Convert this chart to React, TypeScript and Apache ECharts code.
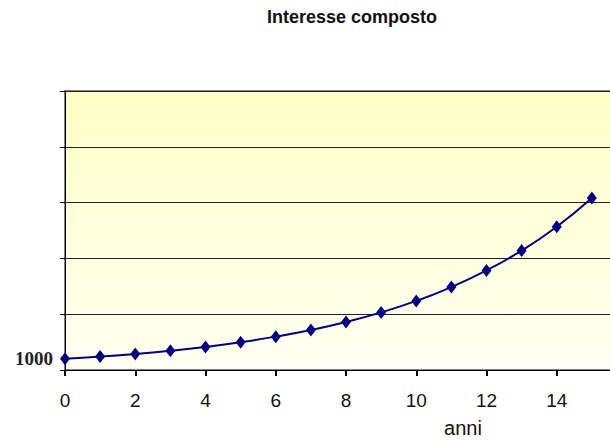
import React, { useEffect, useRef } from "react";
import * as echarts from "echarts";

const years = [0, 1, 2, 3, 4, 5, 6, 7, 8, 9, 10, 11, 12, 13, 14, 15];
const capital = [1000, 1200, 1440, 1730, 2070, 2490, 2990, 3580, 4300, 5160, 6190, 7430, 8920, 10700, 12840, 15410];
const titleText = "Interesse composto";
const xAxisTitle = "anni";
const startLabel = "1000";

export default function App() {
  const ref = useRef<HTMLDivElement>(null);
  useEffect(() => {
    if (!ref.current) return;
    const chart = echarts.init(ref.current, undefined, { renderer: "svg" });
    const data = years.map((y, i) => {
      if (i === 0) {
        return {
          value: [y, capital[i]],
          label: {
            show: true,
            position: "left",
            distance: 7,
            formatter: startLabel,
            fontFamily: "Liberation Serif, serif",
            fontWeight: "bold",
            fontSize: 19,
            color: "#222",
          },
        };
      }
      return [y, capital[i]];
    });
    chart.setOption({
      animation: false,
      backgroundColor: "#ffffff",
      grid: {
        left: 65,
        top: 91,
        width: 562,
        height: 279,
        outerBoundsMode: "none",
        containLabel: false,
        show: true,
        borderWidth: 2,
        borderColor: "#808080",
        backgroundColor: new echarts.graphic.LinearGradient(0, 0, 0, 1, [
          { offset: 0, color: "#ffffc6" },
          { offset: 1, color: "#fffff2" },
        ]),
      },
      graphic: [
        {
          type: "text",
          x: 352,
          y: 17,
          style: {
            text: titleText,
            align: "center",
            verticalAlign: "middle",
            fontFamily: "Liberation Sans Narrow, Arial Narrow, sans-serif",
            fontWeight: "bold",
            fontSize: 18,
            fill: "#111",
          },
        },
        {
          type: "text",
          x: 463,
          y: 428,
          style: {
            text: xAxisTitle,
            align: "center",
            verticalAlign: "middle",
            fontFamily: "Liberation Sans Narrow, Arial Narrow, sans-serif",
            fontSize: 20,
            fill: "#111",
          },
        },
      ],
      xAxis: {
        type: "value",
        min: 0,
        max: 16,
        interval: 2,
        axisLine: { show: true, lineStyle: { color: "#000", width: 1 } },
        axisTick: { show: true, length: 6, lineStyle: { color: "#000", width: 2 } },
        axisLabel: {
          margin: 21,
          showMaxLabel: false,
          fontFamily: "Liberation Sans Narrow, Arial Narrow, sans-serif",
          fontSize: 19,
          color: "#111",
        },
        splitLine: { show: false },
      },
      yAxis: {
        type: "value",
        min: 0,
        max: 25000,
        interval: 5000,
        axisLine: { show: true, lineStyle: { color: "#000", width: 1 } },
        axisTick: { show: true, length: 5, lineStyle: { color: "#000", width: 1 } },
        axisLabel: { show: false },
        splitLine: { show: true, lineStyle: { color: "#222", width: 1 } },
      },
      series: [
        {
          type: "line",
          data,
          smooth: true,
          symbol: "diamond",
          symbolSize: [10, 13],
          itemStyle: { color: "#000080" },
          lineStyle: { color: "#000080", width: 2 },
        },
      ],
    });
    return () => chart.dispose();
  }, []);
  return (
    <div
      ref={ref}
      style={{ position: "fixed", left: 0, top: 0, width: 610, height: 441 }}
    />
  );
}
